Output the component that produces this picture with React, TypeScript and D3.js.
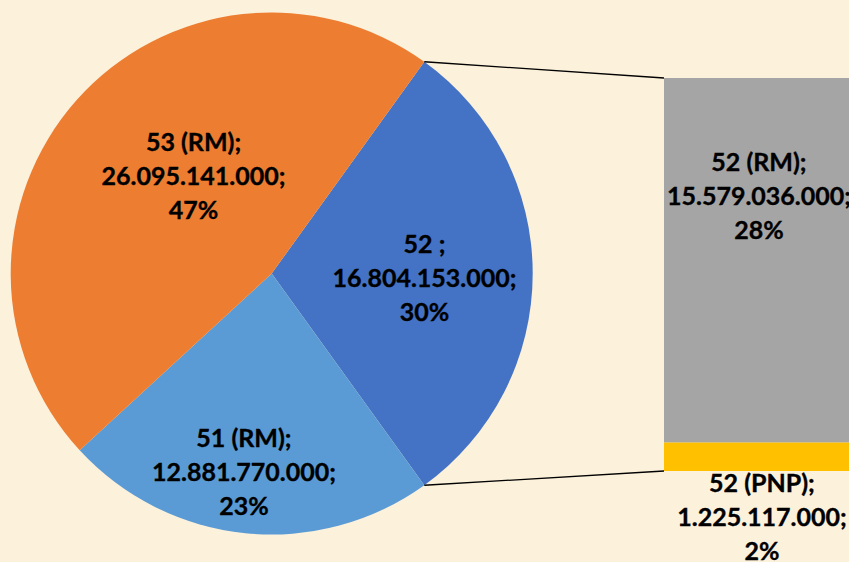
import React from 'react';
import * as d3 from 'd3';

// ---- data ----
const pieCategories: string[] = ['52 ', '51 (RM)', '53 (RM)'];
const pieValues: number[] = [16804153000, 12881770000, 26095141000];
const barCategories: string[] = ['52 (PNP)', '52 (RM)'];
const barValues: number[] = [1225117000, 15579036000];

// ---- layout / style ----
const W = 849;
const H = 562;
const cx = 271.7;
const cy = 273.5;
const R = 261;
const pieColors = ['#4472C4', '#5B9BD5', '#ED7D31'];
const barColors = ['#FFC000', '#A5A5A5'];
const barX = 664;
const barW = 194;
const barTop = 78;
const barBottom = 471;
const fontSize = 25;
const lineGap = 34;
const FONT = 'Lato, "Open Sans", sans-serif';
const pieLabelOffsets: [number, number][] = [[-3.8, 4.5], [-11.9, 42.4], [39, 6.4]];
const barLabelOffsets: [number, number][] = [[1, 60], [-2, -64]];

const locale = d3.formatLocale({ decimal: ',', thousands: '.', grouping: [3], currency: ['', ''] });
const fmt = locale.format(',.0f');

function Label({ x, y, lines }: { x: number; y: number; lines: string[] }) {
  const n = lines.length;
  return (
    <text
      textAnchor="middle"
      fontFamily={FONT}
      fontWeight={700}
      fontSize={fontSize}
      fill="#000"
      stroke="#000"
      strokeWidth={0.35}
    >
      {lines.map((l, i) => (
        <tspan key={i} x={x} y={y + (i - (n - 1) / 2) * lineGap + fontSize * 0.36}>
          {l}
        </tspan>
      ))}
    </text>
  );
}

export default function App() {
  const total = d3.sum(pieValues);
  const otherAngle = (2 * Math.PI * pieValues[0]) / total;
  const start = Math.PI / 2 - otherAngle / 2;
  const pie = d3
    .pie<number>()
    .sort(null)
    .value((d) => d)
    .startAngle(start)
    .endAngle(start + 2 * Math.PI);
  const arcs = pie(pieValues);
  const arc = d3.arc<d3.PieArcDatum<number>>().innerRadius(0).outerRadius(R);
  const labelArc = d3.arc<d3.PieArcDatum<number>>().innerRadius(R * 0.6).outerRadius(R * 0.6);

  const barTotal = d3.sum(barValues);
  const y = d3.scaleLinear().domain([0, barTotal]).range([barBottom, barTop]);
  const stackStarts = barValues.map((_, i) => d3.sum(barValues.slice(0, i)));

  const pt = (a: number): [number, number] => [cx + R * Math.sin(a), cy - R * Math.cos(a)];
  const p1 = pt(arcs[0].startAngle);
  const p2 = pt(arcs[0].endAngle);

  return (
    <svg
      width={W}
      height={H}
      style={{ position: 'absolute', left: 0, top: 0, display: 'block' }}
    >
      <rect x={0} y={0} width={W} height={H} fill="#FCF1DB" />
      <g transform={`translate(${cx},${cy})`}>
        {arcs.map((a, i) => (
          <path key={i} d={arc(a) || ''} fill={pieColors[i]} />
        ))}
      </g>
      {barValues.map((v, i) => (
        <rect
          key={i}
          x={barX}
          width={barW}
          y={y(stackStarts[i] + v)}
          height={y(stackStarts[i]) - y(stackStarts[i] + v)}
          fill={barColors[i]}
        />
      ))}
      <line x1={p1[0]} y1={p1[1]} x2={barX} y2={y(barTotal)} stroke="#000" strokeWidth={1.3} />
      <line x1={p2[0]} y1={p2[1]} x2={barX} y2={y(0)} stroke="#000" strokeWidth={1.3} />
      {arcs.map((a, i) => {
        const [lx, ly] = labelArc.centroid(a);
        return (
          <Label
            key={i}
            x={cx + lx + pieLabelOffsets[i][0]}
            y={cy + ly + pieLabelOffsets[i][1]}
            lines={[
              pieCategories[i] + ';',
              fmt(pieValues[i]) + ';',
              Math.round((pieValues[i] / total) * 100) + '%',
            ]}
          />
        );
      })}
      {barValues.map((v, i) => {
        const mid = y(stackStarts[i] + v / 2);
        return (
          <Label
            key={i}
            x={barX + barW / 2 + barLabelOffsets[i][0]}
            y={mid + barLabelOffsets[i][1]}
            lines={[
              barCategories[i] + ';',
              fmt(v) + ';',
              Math.round((v / total) * 100) + '%',
            ]}
          />
        );
      })}
    </svg>
  );
}
